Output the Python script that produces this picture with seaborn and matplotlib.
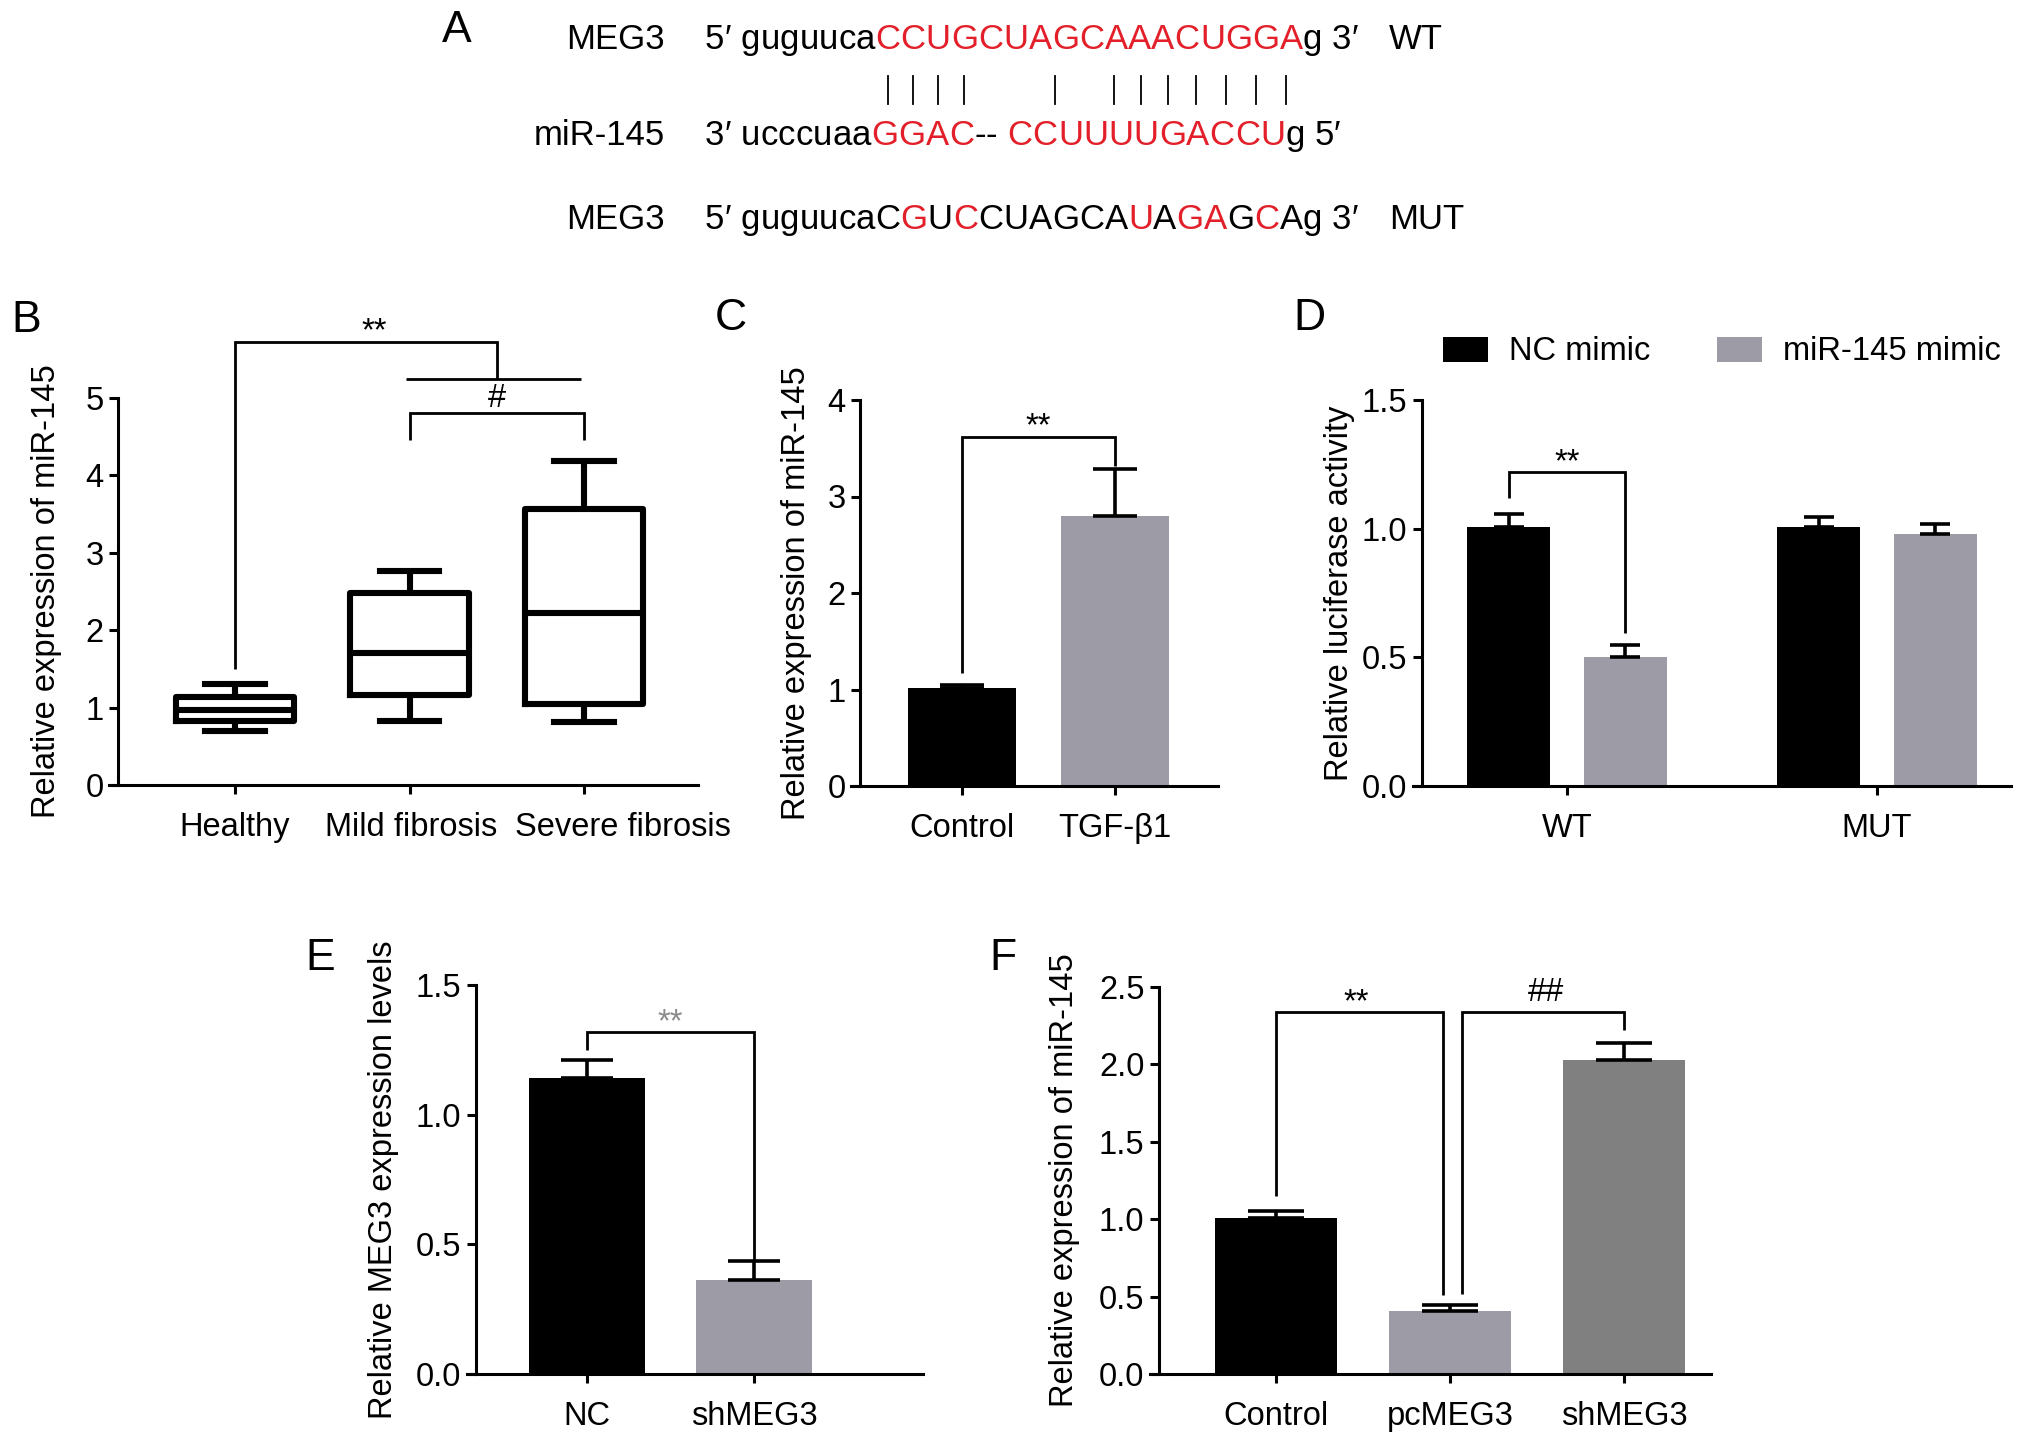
import numpy as np
import pandas as pd
import matplotlib
matplotlib.use("Agg")
import matplotlib.pyplot as plt
from matplotlib.lines import Line2D
from matplotlib.patches import Patch
from matplotlib.font_manager import findfont, FontProperties
from matplotlib.ft2font import FT2Font
import seaborn as sns

# ---------------- data ----------------
# Panel A: sequences as (text, is_red) pieces
a_labels = ["MEG3", "miR-145", "MEG3"]
a_tags = ["WT", "", "MUT"]
a_row1 = [("5′ guguuca", 0), ("CCUGCUAGCAAACUGGA", 1), ("g 3′", 0)]
a_row2 = [("3′ ucccuaa", 0), ("GGAC", 1), ("-- ", 0), ("CCUUUUGACCU", 1), ("g 5′", 0)]
a_row3 = [("5′ guguucaC", 0), ("G", 1), ("U", 0), ("C", 1), ("CUAGCA", 0), ("U", 1),
          ("A", 0), ("GA", 1), ("G", 0), ("C", 1), ("Ag 3′", 0)]
# pairing bars, placed at (fractional) positions along the WT red bases
a_pair_single = [0, 1, 2, 3, 6.6]
a_pair_run = (8.9, 15.8, 7)

# Panel B: box plot five-number summaries
b_groups = ["Healthy", "Mild fibrosis", "Severe fibrosis"]
b_min = [0.70, 0.83, 0.81]
b_q1 = [0.83, 1.16, 1.05]
b_med = [0.97, 1.70, 2.22]
b_q3 = [1.14, 2.48, 3.56]
b_max = [1.30, 2.76, 4.18]

# Panel C
c_groups = ["Control", "TGF-β1"]
c_mean = [1.02, 2.80]
c_err = [0.03, 0.48]

# Panel D
d_groups = ["WT", "MUT"]
d_series = ["NC mimic", "miR-145 mimic"]
d_nc = [1.005, 1.005]
d_nc_err = [0.052, 0.042]
d_mimic = [0.50, 0.98]
d_mimic_err = [0.047, 0.040]

# Panel E
e_groups = ["NC", "shMEG3"]
e_mean = [1.14, 0.363]
e_err = [0.07, 0.072]

# Panel F
f_groups = ["Control", "pcMEG3", "shMEG3"]
f_mean = [1.01, 0.405, 2.03]
f_err = [0.04, 0.04, 0.11]

# ---------------- style ----------------
BLACK = "#000000"
GREY = "#9d9ca6"
DGREY = "#808080"
RED = "#e3202a"
FS = 23.5
FS_SEQ = 25
FS_LETTER = 32
LW_AX = 2.2
LW_BR = 2.0
LW_ERR = 2.6
LW_BOX = 4.4
TICK_LEN = 6.5
XPAD = 13
FAM = ["Liberation Sans", "DejaVu Sans"]

plt.rcParams["font.family"] = FAM
plt.rcParams["axes.linewidth"] = LW_AX

W, H = 2032, 1447
fig = plt.figure(figsize=(W / 100, H / 100), dpi=100)


def fx(px):
    return px / W


def fy(py):
    return 1 - py / H


# ---------------- Panel A ----------------
fonts = []
for fam in FAM:
    f = FT2Font(findfont(FontProperties(family=fam)), hinting_factor=1)
    f.set_size(FS_SEQ, 100)
    fonts.append((f, fam))


def glyph(ch):
    for f, fam in fonts:
        if f.get_char_index(ord(ch)) != 0:
            return f, fam
    return fonts[-1]


def draw_row(x0, base, pieces):
    pen = x0
    centers = []
    for txt, red in pieces:
        for ch in txt:
            f, fam = glyph(ch)
            g = f.load_char(ord(ch))
            adv = g.linearHoriAdvance / 65536.0
            if ch != " ":
                fig.text(fx(pen + adv / 2), fy(base), ch, ha="center", va="baseline",
                         fontsize=FS_SEQ, color=RED if red else BLACK, family=[fam])
            centers.append((ch, red, pen + adv / 2))
            pen += adv
    return centers, pen


seq_x0 = 705
lab_x = 665
tag_x = 1389
bases = [49, 145, 229]
rows = [a_row1, a_row2, a_row3]
row_centers = []
for lab, tag, row, b in zip(a_labels, a_tags, rows, bases):
    fig.text(fx(lab_x), fy(b), lab, ha="right", va="baseline", fontsize=FS_SEQ)
    if tag:
        fig.text(fx(tag_x), fy(b), tag, ha="left", va="baseline", fontsize=FS_SEQ)
    cts, _ = draw_row(seq_x0, b, row)
    row_centers.append(cts)

red1 = np.array([c for ch, r, c in row_centers[0] if r])
idx = np.arange(len(red1))
bar_pos = list(a_pair_single) + list(np.linspace(*a_pair_run))
bar_x = np.interp(bar_pos, idx, red1)
for x in bar_x:
    fig.add_artist(Line2D([fx(x), fx(x)], [fy(76), fy(104)], transform=fig.transFigure,
                          color=BLACK, lw=1.3))

# panel letters
for let, (px, py) in {"A": (457, 30), "B": (26, 321), "C": (731, 319), "D": (1309, 318),
                      "E": (320, 958), "F": (1003, 958)}.items():
    fig.text(fx(px), fy(py), let, ha="center", va="center", fontsize=FS_LETTER)


# ---------------- helpers ----------------
def make_panel(axis_px, right_px, top_px, bottom_px, cat0_px, step_px, overhang=9):
    left_px = axis_px - overhang
    ax = fig.add_axes([fx(left_px), fy(bottom_px), (right_px - left_px) / W,
                       (bottom_px - top_px) / H])
    g = dict(left=left_px, right=right_px, axis=axis_px, cat0=cat0_px, step=step_px)
    return ax, g


def finish(ax, g, ylim, yticks, ylabel, label_px):
    ax.set_xlim((g["left"] - g["cat0"]) / g["step"], (g["right"] - g["cat0"]) / g["step"])
    ax.set_ylim(*ylim)
    ax.set_yticks(yticks)
    ax.set_xlabel("")
    ax.set_ylabel(ylabel, fontsize=FS)
    ax.yaxis.set_label_coords((label_px - g["left"]) / (g["right"] - g["left"]), 0.5)
    ax.spines["top"].set_visible(False)
    ax.spines["right"].set_visible(False)
    ax.spines["left"].set_position(("data", (g["axis"] - g["cat0"]) / g["step"]))
    for s in ("left", "bottom"):
        ax.spines[s].set_linewidth(LW_AX)
    ax.tick_params(axis="both", direction="out", length=TICK_LEN, width=LW_AX,
                   labelsize=FS, color=BLACK)
    ax.tick_params(axis="y", pad=4)
    ax.tick_params(axis="x", pad=XPAD)
    ax.set_facecolor("none")


def bracket(ax, xs, ys, color=BLACK):
    ax.plot(xs, ys, color=color, lw=LW_BR, clip_on=False,
            solid_capstyle="butt", solid_joinstyle="miter")


def sig(ax, x, y, s, color=BLACK):
    ax.text(x, y, s, ha="center", va="baseline", fontsize=FS, color=color, clip_on=False)


def add_errors(ax, errs, capsize):
    pats = sorted(ax.patches, key=lambda p: p.get_x())
    xs = [p.get_x() + p.get_width() / 2 for p in pats]
    ys = [p.get_height() for p in pats]
    ax.errorbar(xs, ys, yerr=[np.zeros(len(errs)), errs], fmt="none", ecolor=BLACK,
                elinewidth=LW_ERR, capsize=capsize, capthick=LW_ERR, zorder=5)


# ---------------- Panel B ----------------
axB, gB = make_panel(118, 698, 398, 785, 235, 174.5)
b_rows = []
for grp, a, b, c, d, e in zip(b_groups, b_min, b_q1, b_med, b_q3, b_max):
    for v in (a, b, c, d, e):
        b_rows.append((grp, v))
dfB = pd.DataFrame(b_rows, columns=["group", "value"])
sns.boxplot(data=dfB, x="group", y="value", ax=axB, fill=False, color=BLACK,
            linewidth=LW_BOX, width=0.68, whis=(0, 100), showfliers=False, saturation=1)
finish(axB, gB, (0, 5), [0, 1, 2, 3, 4, 5], "Relative expression of miR-145", 62)
axB.set_xticks(range(len(b_groups)))
axB.set_xticklabels([])
b_label_shift = [0, 1, 28]   # points: the last label sits right of its tick
for i, (lab, dx) in enumerate(zip(b_groups, b_label_shift)):
    axB.annotate(lab, xy=(i, 0), xycoords=("data", "axes fraction"),
                 xytext=(dx, -(TICK_LEN + XPAD)), textcoords="offset points",
                 ha="center", va="top", fontsize=FS, annotation_clip=False)
bracket(axB, [0, 0, 1.5, 1.5], [1.5, 5.72, 5.72, 5.25])
bracket(axB, [0.98, 1.98], [5.25, 5.25])
bracket(axB, [1, 1, 2, 2], [4.46, 4.80, 4.80, 4.46])
sig(axB, 0.8, 5.74, "**")
sig(axB, 1.5, 4.88, "#")

# ---------------- Panel C ----------------
axC, gC = make_panel(860, 1218, 400, 786, 962, 153)
sns.barplot(x=c_groups, y=c_mean, hue=c_groups, palette=[BLACK, GREY], ax=axC,
            width=0.70, saturation=1, legend=False, errorbar=None, linewidth=0)
add_errors(axC, c_err, 16)
finish(axC, gC, (0, 4), [0, 1, 2, 3, 4], "Relative expression of miR-145", 812)
bracket(axC, [0, 0, 1, 1], [1.17, 3.62, 3.62, 3.32])
sig(axC, 0.5, 3.63, "**")

# ---------------- Panel D ----------------
axD, gD = make_panel(1422, 2011, 400, 786, 1567, 310)
dfD = pd.DataFrame({
    "group": d_groups * 2,
    "series": [s for s in d_series for _ in d_groups],
    "value": d_nc + d_mimic,
})
sns.barplot(data=dfD, x="group", y="value", hue="series", hue_order=d_series,
            palette=[BLACK, GREY], ax=axD, width=0.75, gap=0.285, saturation=1,
            legend=False, errorbar=None, linewidth=0)
d_errs = [e for pair in zip(d_nc_err, d_mimic_err) for e in pair]
add_errors(axD, d_errs, 10.5)
finish(axD, gD, (0, 1.5), [0.0, 0.5, 1.0, 1.5], "Relative luciferase activity", 1355)
bracket(axD, [-0.1875, -0.1875, 0.1875, 0.1875], [1.12, 1.22, 1.22, 0.593])
sig(axD, 0.0, 1.225, "**")
fig.legend(handles=[Patch(facecolor=BLACK), Patch(facecolor=GREY)], labels=d_series,
           loc="center left", bbox_to_anchor=(fx(1443), fy(352)), ncol=2, frameon=False,
           fontsize=FS, handlelength=1.38, handleheight=0.8, handletextpad=0.64,
           columnspacing=2.05, borderpad=0, borderaxespad=0)

# ---------------- Panel E ----------------
axE, gE = make_panel(476, 923, 985, 1374, 587, 167)
sns.barplot(x=e_groups, y=e_mean, hue=e_groups, palette=[BLACK, GREY], ax=axE,
            width=0.69, saturation=1, legend=False, errorbar=None, linewidth=0)
add_errors(axE, e_err, 19)
finish(axE, gE, (0, 1.5), [0.0, 0.5, 1.0, 1.5], "Relative MEG3 expression levels", 399)
bracket(axE, [0, 0, 1, 1], [1.25, 1.32, 1.32, 0.43])
sig(axE, 0.5, 1.322, "**", color="#8c8c8c")

# ---------------- Panel F ----------------
axF, gF = make_panel(1159, 1711, 987, 1374, 1276, 174)
sns.barplot(x=f_groups, y=f_mean, hue=f_groups, palette=[BLACK, GREY, DGREY], ax=axF,
            width=0.70, saturation=1, legend=False, errorbar=None, linewidth=0)
add_errors(axF, f_err, 20)
finish(axF, gF, (0, 2.5), [0.0, 0.5, 1.0, 1.5, 2.0, 2.5], "Relative expression of miR-145", 1080)
bracket(axF, [0, 0, 0.96, 0.96], [1.15, 2.34, 2.34, 0.51])
bracket(axF, [1.07, 1.07, 2, 2], [0.52, 2.34, 2.34, 2.22])
sig(axF, 0.46, 2.345, "**")
sig(axF, 1.55, 2.41, "##")

fig.savefig("out.png", dpi=100, facecolor="white")
